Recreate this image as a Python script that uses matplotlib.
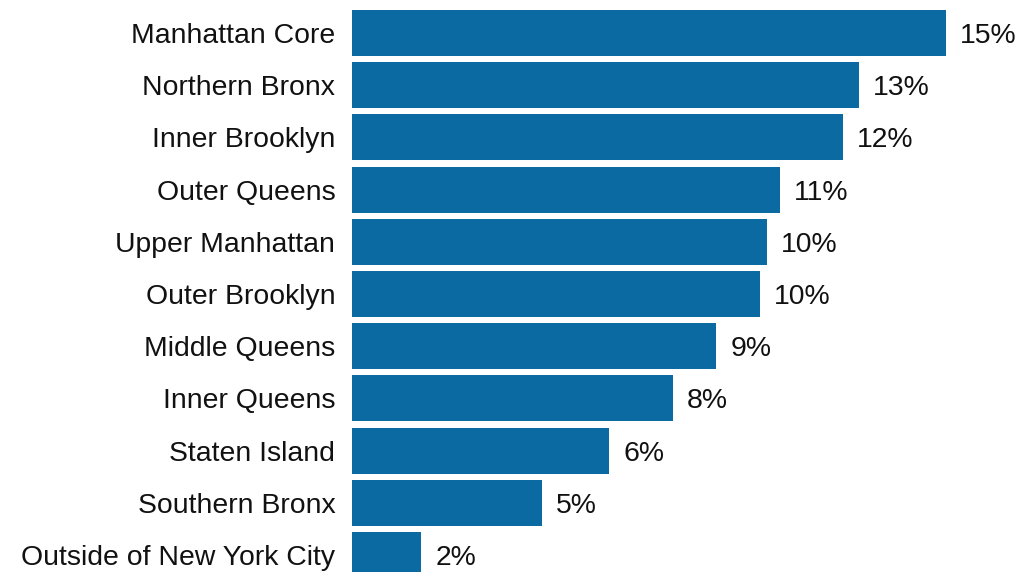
import matplotlib.pyplot as plt

plt.rcParams['font.family'] = ['Liberation Sans', 'DejaVu Sans']

# Share of residents by area (percent)
areas = ["Manhattan Core", "Northern Bronx", "Inner Brooklyn", "Outer Queens",
         "Upper Manhattan", "Outer Brooklyn", "Middle Queens", "Inner Queens",
         "Staten Island", "Southern Bronx", "Outside of New York City"]
shares = [15.0, 12.8, 12.4, 10.8, 10.49, 10.3, 9.2, 8.1, 6.5, 4.8, 1.75]

bar_color = "#0b6aa2"
text_color = "#111111"

fig = plt.figure(figsize=(10.2, 5.72), dpi=100)
ax = fig.add_axes([352 / 1020, 0, 668 / 1020, 1])

ypos = list(range(len(areas)))
ax.barh(ypos, shares, height=0.88, color=bar_color)

for y, v in zip(ypos, shares):
    ax.text(v + 0.35, y, f"{v:.0f}%", va="center_baseline", ha="left",
            fontsize=20.4, color=text_color)

ax.set_yticks(ypos)
ax.set_yticklabels(areas, fontsize=20.4, color=text_color, va="center_baseline")
ax.tick_params(axis="y", length=0, pad=12)
ax.set_xticks([])

ax.set_xlim(0, 668 / 39.6)
ax.set_ylim((572 - 33) / 52.2, -33 / 52.2)

for s in ax.spines.values():
    s.set_visible(False)

fig.savefig("out.png", dpi=100)
